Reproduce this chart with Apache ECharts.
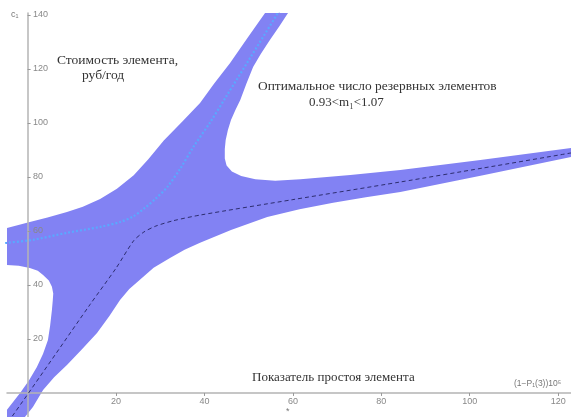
<!DOCTYPE html>
<html>
<head>
<meta charset="utf-8">
<script src="https://cdn.jsdelivr.net/npm/echarts@6/dist/echarts.min.js"></script>
<style>
html,body{margin:0;padding:0;background:#fff;}
#c{width:571px;height:417px;}
</style>
</head>
<body>
<div id="c"></div>
<script>
// Tick labels
const xTicks = [20, 40, 60, 80, 100, 120];
const yTicks = [20, 40, 60, 80, 100, 120, 140];

// Shaded region outline (data units), in drawing order
const upperLeftEdge = [[55.5,146],[53.7,140.7],[49.6,131.2],[45.8,122.2],[42.2,114.6],[39.0,107.4],[35.0,100.5],[30.8,93.5],[27.3,86.5],[24.0,80.6],[20.2,75.6],[16.4,71.8],[12.5,69.0],[8.9,67.0],[4.5,65.0],[0.5,63.3],[-4.7,61.1],[-7,60.3]];
const pocketEdge = [[-7,47.2],[-4.7,47.4],[-2,47.1],[0.5,46.3],[2.3,45.3],[3.5,43.7],[4.8,41.6],[5.5,39.3],[5.8,36.8],[5.7,34.4],[5.5,30.7],[5.1,25.0],[4.6,19.6],[3.5,14.5],[2.1,9.6],[0.3,4.6],[-1.7,0],[-4.7,-6.3],[-6,-10]];
const lowerRightEdge = [[-0.9,-10],[-0.6,-8.9],[1.2,-5.2],[3.5,1.1],[6.0,5.8],[8.9,10.4],[12.3,16.2],[15.7,22.2],[18.5,28.5],[20.9,34.4],[23.0,38.5],[25.4,41.9],[28.5,46.4],[32.2,50.0],[35.5,53.0],[39.0,55.6],[46.0,60.3],[54.2,65.2],[61.5,68.0],[69.1,70.4],[76.5,72.5],[84.3,74.4],[103,80.6],[123,87.4],[126,88]];
const upperRightEdge = [[126,91.3],[123,90.7],[102.4,86.3],[84.3,82.6],[73.0,80.7],[61.7,79.1],[56.0,78.6],[51.5,79.1],[48.3,80.3],[46.2,82.0],[45.0,84.2],[44.6,86.8],[44.6,90.3],[44.8,93.7],[45.3,97.4],[46.0,101.1],[47.0,104.8],[48.1,108.5],[49.5,114.6],[51.0,120.7],[52.8,125.7],[54.8,130.7],[56.9,135.7],[58.9,140.7],[60,146]];

// Dark dashed curve
const darkLine = [[-5.5,-12.4],[-3.6,-8.9],[14.1,32.7],[20,46.2],[24.0,56.4],[26.3,59.6],[29,61.8],[33,63.8],[39.1,65.9],[60,71.6],[84.2,78.1],[103,83.3],[123,88.9]];
// Light blue dotted curve
const blueLine = [[-6,55.4],[-4.7,55.6],[1.2,56.7],[8.9,59.3],[16.4,61.5],[20.9,63.3],[23.9,65.4],[26.5,68.5],[29,72],[31.6,76.3],[34.5,83],[37.5,91.1],[41.4,100.5],[45,110],[50,123.2],[56.6,140.7],[58.5,146]];

const bandOutline = upperLeftEdge.concat(pocketEdge, lowerRightEdge, upperRightEdge);

const serifText = (txt, left, top, size) => ({
  type: 'text', left: left, top: top,
  style: { text: txt, fill: '#333', font: size + 'px "Liberation Serif", "DejaVu Serif", serif' }
});
const sansText = (txt, left, top, size) => ({
  type: 'text', left: left, top: top,
  style: { text: txt, fill: '#777', font: size + 'px "Liberation Sans", "DejaVu Sans", sans-serif' }
});

const chart = echarts.init(document.getElementById('c'));
chart.setOption({
  animation: false,
  backgroundColor: '#fff',
  grid: { left: 7, top: 13, right: 0, bottom: 0, containLabel: false, outerBoundsMode: 'none' },
  xAxis: {
    type: 'value', min: -4.66, max: 122.9, z: 4,
    axisLine: { onZero: true, lineStyle: { color: '#b4b4b4', width: 1.5 } },
    axisTick: { show: true, length: 3, customValues: xTicks, lineStyle: { color: '#999' } },
    axisLabel: { customValues: xTicks, inside: true, color: '#888', fontSize: 9, margin: 11, fontFamily: 'Liberation Sans' },
    splitLine: { show: false }
  },
  yAxis: {
    type: 'value', min: -8.9, max: 140.7, z: 4,
    axisLine: { onZero: true, lineStyle: { color: '#b4b4b4', width: 1.5 } },
    axisTick: { show: true, length: 3, inside: true, customValues: yTicks, lineStyle: { color: '#999' } },
    axisLabel: { customValues: yTicks, inside: true, color: '#888', fontSize: 9, margin: 26, fontFamily: 'Liberation Sans' },
    splitLine: { show: false }
  },
  series: [
    {
      type: 'custom', coordinateSystem: 'cartesian2d', clip: true, z: 1,
      data: [[0, 0]],
      renderItem: function (params, api) {
        const pts = bandOutline.map(p => api.coord(p));
        return { type: 'polygon', shape: { points: pts }, style: { fill: '#8282f3', stroke: null } };
      }
    },
    {
      type: 'line', data: darkLine, symbol: 'none', smooth: 0.25, z: 5, clip: true,
      lineStyle: { color: '#2d2d6e', width: 1, type: [4, 3] }
    },
    {
      type: 'line', data: blueLine, symbol: 'none', smooth: 0.3, z: 5, clip: true,
      lineStyle: { color: '#5aa8ff', width: 2.2, type: [2, 2] }
    }
  ],
  graphic: [
    serifText('Стоимость элемента,', 57, 53, 13.5),
    serifText('руб/год', 82, 68, 13.5),
    serifText('Оптимальное число резервных элементов', 258, 80, 13.4),
    serifText('0.93<m\u2081<1.07', 309, 96, 13),
    serifText('Показатель простоя элемента', 252, 371, 13),
    sansText('(1\u2212P\u2081(3))10\u2075', 514, 379, 8.5),
    sansText('c\u2081', 11, 10, 9),
    sansText('*', 286, 407, 9)
  ]
});
</script>
</body>
</html>
